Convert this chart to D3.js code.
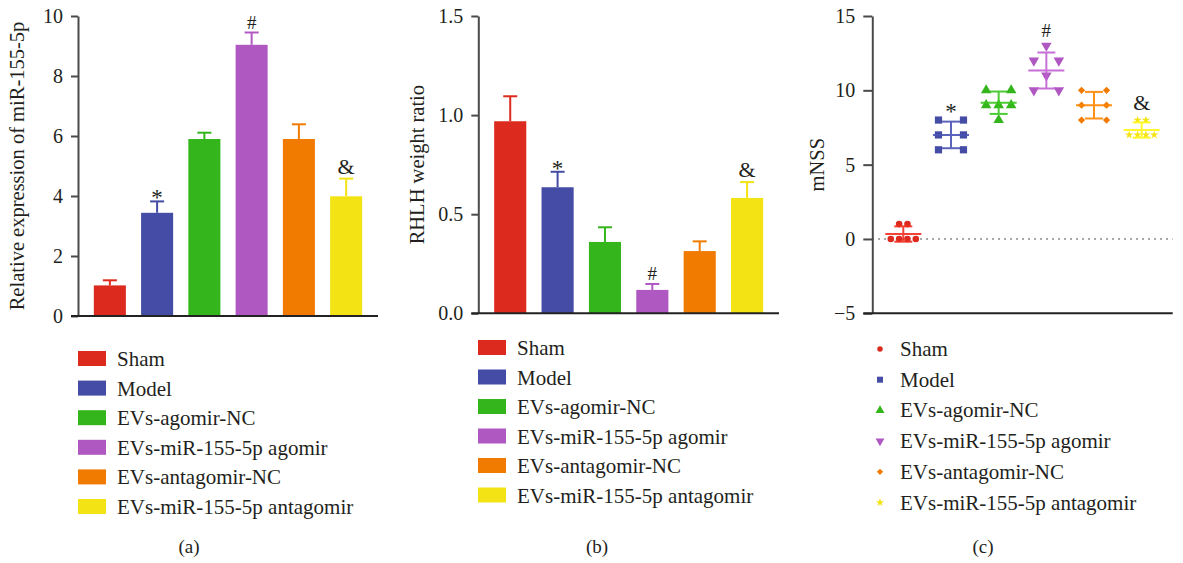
<!DOCTYPE html>
<html><head><meta charset="utf-8">
<script src="https://cdn.jsdelivr.net/npm/d3@7"></script>
<style>
body{margin:0;background:#fff}
text{font-family:"Liberation Serif","Times New Roman",serif;fill:#231f20}
</style>
</head><body>
<svg id="chart" width="1183" height="563"></svg>
<script>
// ---------- data ----------
const groups = ["Sham", "Model", "EVs-agomir-NC", "EVs-miR-155-5p agomir", "EVs-antagomir-NC", "EVs-miR-155-5p antagomir"];
const groupColors = ["#dc2b1e", "#444ca5", "#35b51c", "#b058c1", "#f17b00", "#f4e314"];
const mirMean = [1.02, 3.44, 5.90, 9.04, 5.90, 3.99];
const mirErr  = [0.17, 0.38, 0.21, 0.41, 0.49, 0.59];
const rhlhMean = [0.969, 0.636, 0.360, 0.118, 0.314, 0.582];
const rhlhErr  = [0.126, 0.078, 0.074, 0.030, 0.049, 0.080];
const mnssPoints = [
  [0, 0, 0, 0, 1, 1],
  [8, 8, 7, 7, 6, 6],
  [10, 10, 9, 9, 9, 8],
  [13, 12, 12, 11, 10, 10],
  [10, 10, 9, 9, 8, 8],
  [8, 8, 7, 7, 7, 7]
];
const sigMarks = ["", "*", "", "#", "", "&"];
const ticksA = [0, 2, 4, 6, 8, 10];
const ticksB = [0, 0.5, 1.0, 1.5];
const ticksC = [-5, 0, 5, 10, 15];
const titles = ["Relative expression of miR-155-5p", "RHLH weight ratio", "mNSS"];
const captions = ["(a)", "(b)", "(c)"];

// ---------- drawing ----------
const svg = d3.select("#chart");
const axisColor = "#4a4a4a";
const markOffset = {"*": 4, "#": -4, "&": -5};
const markSize = {"*": 23, "#": 19, "&": 22};

function styleAxis(g) {
  g.attr("font-family", null).attr("font-size", null);
  g.select(".domain").attr("stroke", axisColor).attr("stroke-width", 2);
  g.selectAll(".tick line").attr("stroke", axisColor).attr("stroke-width", 2);
  g.selectAll(".tick text").style("font-size", "20px").attr("fill", "#231f20")
    .style("font-family", '"Liberation Serif","Times New Roman",serif');
}

function barPanel(o) {
  const g = svg.append("g");
  const x = d3.scaleBand().domain(groups).range([o.x0, o.x1]).paddingInner(0.322).paddingOuter(0.335);
  const y = d3.scaleLinear().domain(o.domain).range([o.yBot, o.yTop]);
  g.selectAll("rect.bar").data(groups).join("rect")
    .attr("x", d => x(d)).attr("width", x.bandwidth())
    .attr("y", (d, i) => y(o.means[i])).attr("height", (d, i) => y(0) - y(o.means[i]))
    .attr("fill", (d, i) => groupColors[i]);
  const eb = g.selectAll("g.eb").data(groups).join("g");
  eb.append("line")
    .attr("x1", d => x(d) + x.bandwidth() / 2).attr("x2", d => x(d) + x.bandwidth() / 2)
    .attr("y1", (d, i) => y(o.means[i])).attr("y2", (d, i) => y(o.means[i] + o.errs[i]))
    .attr("stroke", (d, i) => groupColors[i]).attr("stroke-width", 2);
  eb.append("line")
    .attr("x1", d => x(d) + x.bandwidth() / 2 - 7).attr("x2", d => x(d) + x.bandwidth() / 2 + 7)
    .attr("y1", (d, i) => y(o.means[i] + o.errs[i])).attr("y2", (d, i) => y(o.means[i] + o.errs[i]))
    .attr("stroke", (d, i) => groupColors[i]).attr("stroke-width", 2);
  g.selectAll("text.sig").data(groups).join("text")
    .attr("x", d => x(d) + x.bandwidth() / 2)
    .attr("y", (d, i) => y(o.means[i] + o.errs[i]) + (markOffset[sigMarks[i]] || 0))
    .attr("text-anchor", "middle")
    .style("font-size", (d, i) => (markSize[sigMarks[i]] || 18) + "px")
    .text((d, i) => sigMarks[i]);
  const ya = g.append("g").attr("transform", `translate(${o.x0},0)`)
    .call(d3.axisLeft(y).tickValues(o.ticks).tickFormat(o.fmt).tickSize(7).tickPadding(8).tickSizeOuter(0));
  styleAxis(ya);
  g.append("line").attr("x1", o.x0 - 7).attr("x2", o.x1).attr("y1", y(0)).attr("y2", y(0))
    .attr("stroke", "#222").attr("stroke-width", 2);
  g.append("text").attr("transform", `translate(${o.titleX},${(o.yTop + o.yBot) / 2}) rotate(-90)`)
    .attr("text-anchor", "middle").style("font-size", "20.5px").text(o.title);
  const lg = g.selectAll("g.leg").data(groups).join("g")
    .attr("transform", (d, i) => `translate(${o.legX},${o.legY + i * o.legStep})`);
  lg.append("rect").attr("width", 28).attr("height", 15).attr("fill", (d, i) => groupColors[i]);
  lg.append("text").attr("x", 39).attr("y", 15).style("font-size", "21px").text(d => d);
  g.append("text").attr("x", o.capX).attr("y", 553).attr("text-anchor", "middle")
    .style("font-size", "19px").text(o.caption);
}

barPanel({x0: 78, x1: 378, yTop: 16, yBot: 316, domain: [0, 10], ticks: ticksA, fmt: d3.format("d"),
  means: mirMean, errs: mirErr, title: titles[0], titleX: 24,
  legX: 78, legY: 351, legStep: 29.6, caption: captions[0], capX: 189});
barPanel({x0: 478.3, x1: 779, yTop: 16, yBot: 313.3, domain: [0, 1.5], ticks: ticksB, fmt: d3.format(".1f"),
  means: rhlhMean, errs: rhlhErr, title: titles[1], titleX: 424,
  legX: 478, legY: 340, legStep: 29.5, caption: captions[1], capX: 597});

// ---------- panel (c): scatter ----------
(function () {
  const x0 = 872.3, x1 = 1172.7, yTop = 16, yBot = 313.3;
  const g = svg.append("g");
  const x = d3.scalePoint().domain(groups).range([x0, x1]).padding(0.65);
  const y = d3.scaleLinear().domain([-5, 15]).range([yBot, yTop]);
  const symTypes = [d3.symbolCircle, d3.symbolSquare, d3.symbolTriangle, d3.symbolTriangle, d3.symbolSquare, d3.symbolStar];
  const symSizes = [34, 52, 48, 48, 26, 22];
  const symRot = [0, 0, 0, 180, 45, 0];
  const legSizes = [24, 36, 34, 34, 20, 22];

  g.append("line").attr("x1", x0).attr("x2", x1).attr("y1", y(0)).attr("y2", y(0))
    .attr("stroke", "#666").attr("stroke-width", 1.5).attr("stroke-dasharray", "1.5,4.5");

  function swarm(vals, W) {
    const idx = vals.map((v, i) => ({v, i}));
    const bins = d3.group(idx, d => d.v);
    const maxBin = d3.max(Array.from(bins.values()), b => b.length);
    const slots = Math.max(3, maxBin);
    const sp = W / (slots - 1);
    const off = new Array(vals.length).fill(0);
    for (const arr of bins.values()) {
      const k = arr.length;
      const step = (k % 2 === slots % 2 || k === 1) ? sp : sp * (slots - 1) / (k - 1);
      arr.forEach((d, j) => { off[d.i] = (j - (k - 1) / 2) * step; });
    }
    return off;
  }

  groups.forEach((grp, gi) => {
    const vals = mnssPoints[gi];
    const cx = x(grp);
    const col = groupColors[gi];
    const offs = swarm(vals, 25);
    const sym = d3.symbol().type(symTypes[gi]).size(symSizes[gi]);
    g.selectAll(null).data(vals).join("path")
      .attr("d", sym)
      .attr("transform", (v, i) => `translate(${cx + offs[i]},${y(v)}) rotate(${symRot[gi]})`)
      .attr("fill", col);
    const m = d3.mean(vals), sd = d3.deviation(vals);
    const lc = d3.color(col).brighter(0.25).formatHex();
    const eg = g.append("g").attr("stroke", lc).attr("stroke-width", 2).attr("opacity", 0.9);
    eg.append("line").attr("x1", cx - 18).attr("x2", cx + 18).attr("y1", y(m)).attr("y2", y(m));
    eg.append("line").attr("x1", cx).attr("x2", cx).attr("y1", y(m - sd)).attr("y2", y(m + sd));
    eg.append("line").attr("x1", cx - 9).attr("x2", cx + 9).attr("y1", y(m - sd)).attr("y2", y(m - sd));
    eg.append("line").attr("x1", cx - 9).attr("x2", cx + 9).attr("y1", y(m + sd)).attr("y2", y(m + sd));
    const mk = sigMarks[gi];
    if (mk) {
      g.append("text").attr("x", cx).attr("y", y(d3.max(vals)) - 5 + (markOffset[mk] || 0))
        .attr("text-anchor", "middle").style("font-size", (markSize[mk] || 18) + "px").text(mk);
    }
  });

  const ya = g.append("g").attr("transform", `translate(${x0},0)`)
    .call(d3.axisLeft(y).tickValues(ticksC).tickFormat(d => d < 0 ? "\u2212" + Math.abs(d) : d).tickSize(9).tickPadding(8).tickSizeOuter(0));
  styleAxis(ya);
  g.append("line").attr("x1", x0 - 9).attr("x2", x1).attr("y1", y(-5)).attr("y2", y(-5))
    .attr("stroke", "#222").attr("stroke-width", 2);
  g.append("text").attr("transform", `translate(824,${(yTop + yBot) / 2}) rotate(-90)`)
    .attr("text-anchor", "middle").style("font-size", "20.5px").text(titles[2]);

  const lg = g.selectAll("g.leg").data(groups).join("g")
    .attr("transform", (d, i) => `translate(880,${349 + i * 30.7})`);
  lg.append("path")
    .attr("d", (d, i) => d3.symbol().type(symTypes[i]).size(legSizes[i])())
    .attr("transform", (d, i) => `rotate(${symRot[i]})`)
    .attr("fill", (d, i) => groupColors[i]);
  lg.append("text").attr("x", 20).attr("y", 7).style("font-size", "21px").text(d => d);

  g.append("text").attr("x", 983).attr("y", 553).attr("text-anchor", "middle")
    .style("font-size", "19px").text(captions[2]);
})();
</script>
</body></html>
